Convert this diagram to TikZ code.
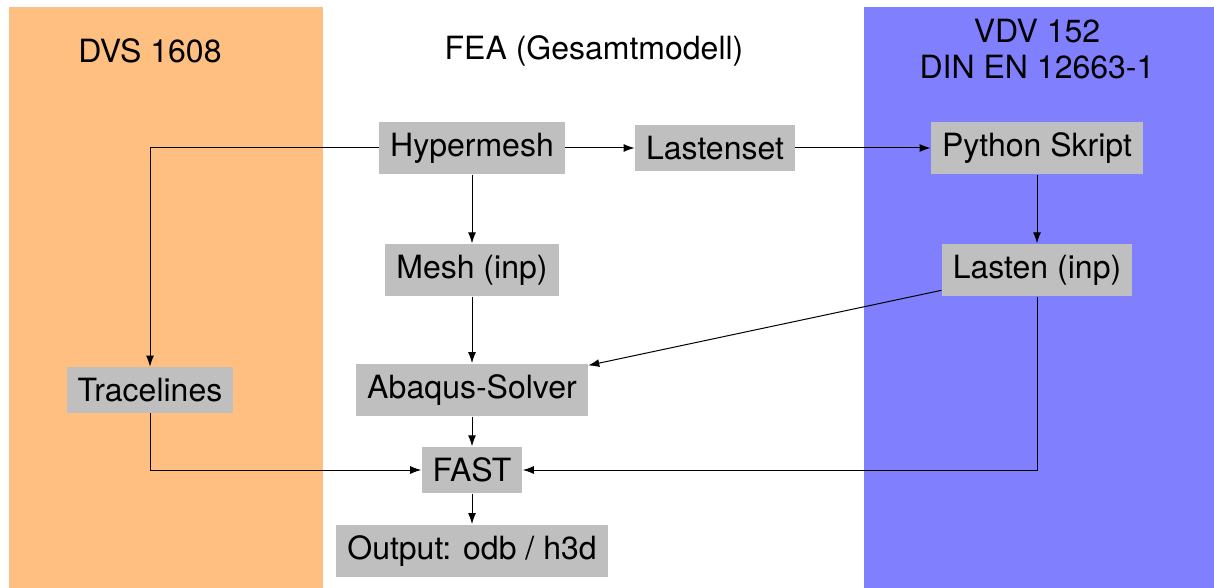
\documentclass[tikz,border=0pt]{standalone}
\usepackage{fontspec}
\setmainfont{TeX Gyre Heros}
\usetikzlibrary{positioning,arrows.meta}

\begin{document}
\begin{tikzpicture}[x=0.5pt, y=0.5pt, >={Latex[length=5.5pt,width=4pt]},
    font=\fontsize{16}{18}\selectfont,
    box/.style={fill=lightgray, inner sep=5.5pt},
    line width=0.5pt,
    on grid]
    \useasboundingbox (0,0) rectangle (1214,-588);

    % columns
    \fill[orange!50] (9,-7) rectangle (323,-588);
    \fill[blue!50] (864,-7) rectangle (1214,-588);

    \node[anchor=base] (DVS) at (150,-63) {DVS 1608};
    \node[anchor=base] (FEA) at (594,-60) {FEA (Gesamtmodell)};
    \node[anchor=base, align=center] (VDV) at (1037,-79) {VDV 152\\DIN EN 12663-1};

    \node[box] (Hypermesh) at (472,-148) {Hypermesh};
    \node[box, right={121.5pt of Hypermesh}] (Lastenset) {Lastenset};
    \node[box, right={161pt of Lastenset}] (Python) {Python Skript};
    \node[box, below={61pt of Hypermesh}] (Mesh) {Mesh (inp)};
    \node[box, below={61pt of Python}] (Lasten) {Lasten (inp)};
    \node[box, below={60pt of Mesh}] (Abaqus) {Abaqus-Solver};
    \node[box, left={161pt of Abaqus}] (Tracelines) {Tracelines};
    \node[box, below={40pt of Abaqus}] (FAST) {FAST};
    \node[box, below={40.5pt of FAST}] (Output) {Output: odb / h3d};

    \draw[->] (Hypermesh) -- (Lastenset);
    \draw[->] (Lastenset) -- (Python);
    \draw[->] (Hypermesh) -- (Mesh);
    \draw[->] (Mesh) -- (Abaqus);
    \draw[->] (Python) -- (Lasten);
    \draw[->] (Lasten) -- (Abaqus);
    \draw[->] (Abaqus) -- (FAST);
    \draw[->] (FAST) -- (Output);
    \draw[->] (Hypermesh.west) -| (Tracelines.north);
    \draw[->] (Tracelines.south) |- (FAST.west);
    \draw[->] (Lasten.south) |- (FAST.east);
\end{tikzpicture}
\end{document}
